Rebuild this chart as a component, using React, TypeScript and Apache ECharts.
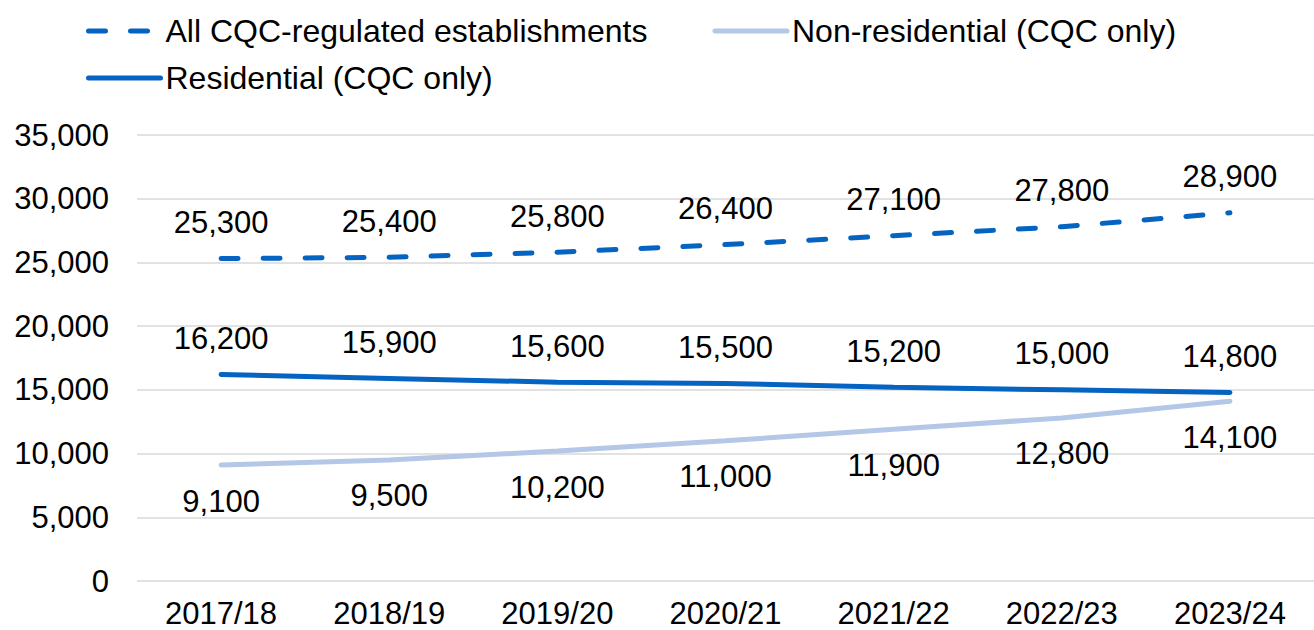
import React, { useEffect, useRef } from "react";
import * as echarts from "echarts";

const categories = ["2017/18", "2018/19", "2019/20", "2020/21", "2021/22", "2022/23", "2023/24"];
const allCqc = [25300, 25400, 25800, 26400, 27100, 27800, 28900];
const nonResidential = [9100, 9500, 10200, 11000, 11900, 12800, 14100];
const residential = [16200, 15900, 15600, 15500, 15200, 15000, 14800];
const seriesNames = ["All CQC-regulated establishments", "Non-residential (CQC only)", "Residential (CQC only)"];

const FONT = "'Liberation Sans', Arial, sans-serif";
const FS = 31;
const fmt = (v: number) => Number(v).toLocaleString("en-US");
const CLEAR = "rgba(0,0,0,0)";

export default function App() {
  const ref = useRef<HTMLDivElement>(null);
  useEffect(() => {
    document.body.style.margin = "0";
    if (!ref.current) return;
    const chart = echarts.init(ref.current, undefined, { renderer: "svg" });
    const labelBase = {
      show: true,
      color: "#000",
      fontSize: FS,
      fontFamily: FONT,
      distance: 20,
      formatter: (p: any) => fmt(p.value),
    };
    const legendText = { fontSize: 32, color: "#000", fontFamily: FONT };
    const legendCommon = {
      itemWidth: 72,
      itemHeight: 14,
      itemStyle: { color: CLEAR, borderWidth: 0 },
      lineStyle: { width: 5, cap: "round" },
      textStyle: legendText,
    };
    chart.setOption({
      animation: false,
      textStyle: { fontFamily: FONT },
      legend: [
        {
          ...legendCommon,
          data: [seriesNames[0], seriesNames[1]],
          left: 81,
          top: 10,
          itemGap: 65,
        },
        {
          ...legendCommon,
          data: [seriesNames[2]],
          left: 81,
          top: 57,
        },
      ],
      grid: { left: 137, top: 135, width: 1193, height: 446, containLabel: false },
      xAxis: {
        type: "category",
        data: categories,
        boundaryGap: true,
        axisLine: { show: false },
        axisTick: { show: false },
        axisLabel: { color: "#000", fontSize: FS, fontFamily: FONT, margin: 17 },
      },
      yAxis: {
        type: "value",
        min: 0,
        max: 35000,
        interval: 5000,
        axisLine: { show: false },
        axisTick: { show: false },
        splitLine: { lineStyle: { color: "#d9d9d9", width: 1.5 } },
        axisLabel: { color: "#000", fontSize: FS, fontFamily: FONT, margin: 28, formatter: (v: number) => fmt(v) },
      },
      series: [
        {
          name: seriesNames[0],
          type: "line",
          data: allCqc,
          symbol: "circle",
          symbolSize: 1,
          showSymbol: true,
          lineStyle: { color: "#0563C1", width: 5, type: [17, 25], cap: "round" },
          itemStyle: { color: CLEAR, borderWidth: 0 },
          label: { ...labelBase, position: "top" },
        },
        {
          name: seriesNames[1],
          type: "line",
          data: nonResidential,
          symbol: "circle",
          symbolSize: 1,
          showSymbol: true,
          lineStyle: { color: "#B4C7E7", width: 5, cap: "round" },
          itemStyle: { color: CLEAR, borderWidth: 0 },
          label: { ...labelBase, position: "bottom" },
        },
        {
          name: seriesNames[2],
          type: "line",
          data: residential,
          symbol: "circle",
          symbolSize: 1,
          showSymbol: true,
          lineStyle: { color: "#0563C1", width: 5, cap: "round" },
          itemStyle: { color: CLEAR, borderWidth: 0 },
          label: { ...labelBase, position: "top" },
        },
      ],
    });
    return () => chart.dispose();
  }, []);
  return <div ref={ref} style={{ width: 1314, height: 630 }} />;
}
